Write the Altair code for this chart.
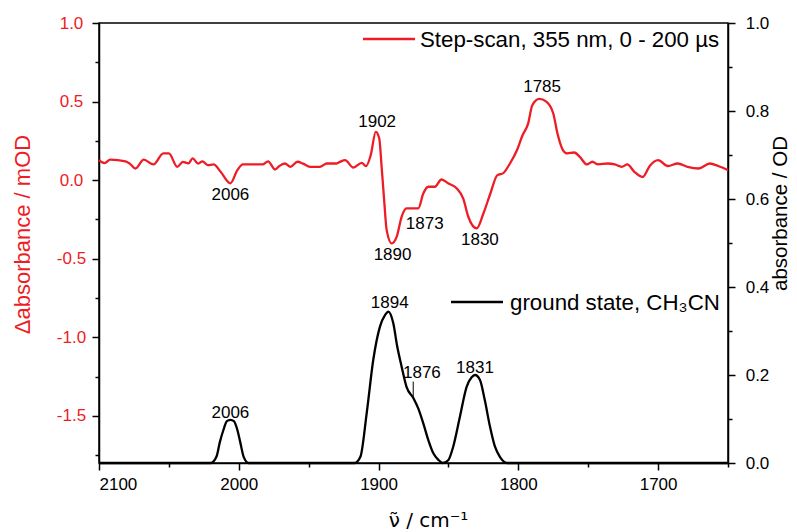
import altair as alt
import pandas as pd

# ---- step-scan difference spectrum (left axis, mOD) ----
red_x = [2100, 2096, 2092, 2081, 2078, 2074, 2068, 2061, 2054, 2050, 2044, 2040, 2036, 2033,
         2029, 2026, 2022, 2018, 2013, 2006, 2001, 1997, 1983, 1979, 1974, 1971, 1967, 1963,
         1958, 1954, 1949, 1942, 1937, 1930, 1927.6, 1924, 1918, 1912, 1909, 1905.6, 1902,
         1899.5, 1897.8, 1896, 1894.2, 1890.6, 1887, 1883.5, 1880, 1875, 1871.6, 1868, 1864.4,
         1859.7, 1855, 1850, 1844, 1839.4, 1835.8, 1829.8, 1825, 1820, 1815, 1811, 1806, 1801,
         1797, 1793, 1790, 1785, 1780, 1775, 1772, 1768, 1765, 1760, 1756, 1751, 1747, 1743,
         1736, 1731, 1726, 1722, 1717, 1711, 1706, 1700, 1693, 1686, 1679, 1671, 1663, 1657, 1650]
red_y = [0.127, 0.108, 0.13, 0.12, 0.105, 0.074, 0.13, 0.10, 0.17, 0.17, 0.085, 0.116, 0.107, 0.138,
         0.105, 0.12, 0.095, 0.10, 0.053, -0.02, 0.064, 0.10, 0.10, 0.12, 0.068, 0.09, 0.106, 0.085,
         0.117, 0.105, 0.085, 0.085, 0.106, 0.106, 0.116, 0.127, 0.08, 0.11, 0.089, 0.159, 0.307,
         0.265, 0.085, -0.127, -0.318, -0.403, -0.36, -0.233, -0.18, -0.18, -0.18, -0.085, -0.042,
         -0.042, 0.004, -0.021, -0.053, -0.117, -0.233, -0.307, -0.212, -0.085, 0.032, 0.043, 0.106, 0.19,
         0.286, 0.36, 0.477, 0.517, 0.50, 0.424, 0.297, 0.19, 0.17, 0.176, 0.148, 0.10, 0.117, 0.10,
         0.106, 0.10, 0.085, 0.10, 0.053, 0.02, 0.09, 0.127, 0.09, 0.106, 0.085, 0.074, 0.106, 0.09, 0.064]

# ---- ground state spectrum (right axis, OD) ----
blk_x = [2100, 2020, 2016, 2013.5, 2011, 2008.5, 2006, 2003.5, 2001, 1999, 1996.5, 1993,
         1917, 1913, 1908.5, 1903.8, 1899, 1895.4, 1893, 1889.5, 1886.6, 1883.5, 1880, 1875,
         1871.6, 1868, 1864.4, 1860.8, 1857.2, 1854, 1850, 1846.6, 1841.8, 1837, 1833.4, 1831,
         1827.5, 1824, 1820.3, 1816.7, 1813.2, 1808, 1650]
blk_y = [0.0, 0.0, 0.014, 0.048, 0.075, 0.095, 0.098, 0.095, 0.075, 0.048, 0.014, 0.0,
         0.0, 0.014, 0.113, 0.234, 0.31, 0.336, 0.344, 0.318, 0.264, 0.219, 0.173, 0.147,
         0.124, 0.09, 0.052, 0.022, 0.007, 0.0, 0.007, 0.037, 0.105, 0.173, 0.195, 0.2,
         0.189, 0.143, 0.083, 0.037, 0.014, 0.0, 0.0]

# ---- peak annotations ----
red_lab = ["2006", "1902", "1890", "1873", "1830", "1785"]
red_lab_x = [2006, 1901, 1890, 1867, 1827.5, 1783]
red_lab_y = [-0.095, 0.369, -0.477, -0.28, -0.38, 0.59]

blk_lab = ["2006", "1894", "1876", "1831"]
blk_lab_x = [2006, 1892, 1869, 1831]
blk_lab_y = [0.114, 0.364, 0.205, 0.217]

leader_x = [1875.2]
leader_y = [0.151]
leader_y2 = [0.185]

legend_red = ["Step-scan, 355 nm, 0 - 200 \u00b5s"]
legend_blk = ["ground state, CH\u2083CN"]

x_ticks = [2100, 2050, 2000, 1950, 1900, 1850, 1800, 1750, 1700, 1650]
yl_major = [-1.5, -1.0, -0.5, 0.0, 0.5, 1.0]
yl_minor = [-1.75, -1.25, -0.75, -0.25, 0.25, 0.75]
yr_ticks = [0.0, 0.1, 0.2, 0.3, 0.4, 0.5, 0.6, 0.7, 0.8, 0.9, 1.0]

RED = "#ee1c25"
FONT = "Liberation Sans"

red_df = pd.DataFrame({"x": red_x, "y": red_y})
blk_df = pd.DataFrame({"x": blk_x, "y": blk_y})
red_lab_df = pd.DataFrame({"t": red_lab, "x": red_lab_x, "y": red_lab_y})
blk_lab_df = pd.DataFrame({"t": blk_lab, "x": blk_lab_x, "y": blk_lab_y})
lead_df = pd.DataFrame({"x": leader_x, "y": leader_y, "y2": leader_y2})

xscale = alt.Scale(domain=[1650, 2100], reverse=True, nice=False, zero=False)
ylscale = alt.Scale(domain=[-1.8, 1.0], nice=False, zero=False)
yrscale = alt.Scale(domain=[0, 1.0], nice=False, zero=False)

MAJ_R = "abs(datum.value*5 - round(datum.value*5)) < 0.001"

x_axis = alt.Axis(
    values=x_ticks, title="\u03bd\u0303 / cm\u207b\u00b9", grid=False,
    labelExpr="datum.value % 100 === 0 ? format(datum.value, 'd') : ''",
    tickSize={"condition": {"test": "datum.value % 100 === 0", "value": 7}, "value": 4},
    labelPadding=6, labelFontSize=17, labelColor="black", labelOverlap=False,
    titleFontSize=20, titleColor="black", titleFontWeight="normal", titleFont="DejaVu Sans",
    titleX=329, titleY=57, titleBaseline="middle",
    domainColor="black", tickColor="black", domainWidth=1.5, tickWidth=1.5,
)

yl_axis = alt.Axis(
    values=yl_major, title="\u0394absorbance / mOD", grid=False, orient="left",
    labelExpr="(datum.value < 0 ? '-' : '') + format(abs(datum.value), '.1f')",
    tickSize=7, labelAlign="center", labelPadding=21, labelFontSize=17, labelColor=RED,
    labelOverlap=False,
    titleFontSize=22, titleColor=RED, titleFontWeight="normal", titleAngle=270,
    titleX=-77, titleY=211, titleBaseline="middle", titleAlign="center",
    domainColor="black", tickColor="black", domainWidth=1.5, tickWidth=1.5,
)
yl_minor_axis = alt.Axis(
    values=yl_minor, labels=False, title=None, grid=False, orient="left", domain=False,
    tickSize=4, tickColor="black", tickWidth=1.5,
)
yr_axis = alt.Axis(
    values=yr_ticks, title="absorbance / OD", grid=False, orient="right",
    labelExpr=f"{MAJ_R} ? format(datum.value, '.1f') : ''",
    tickSize={"condition": {"test": MAJ_R, "value": 7}, "value": 4},
    labelAlign="center", labelPadding=22, labelFontSize=17, labelColor="black", labelOverlap=False,
    titleFontSize=20.5, titleColor="black", titleFontWeight="normal", titleAngle=270,
    titleX=52, titleY=190, titleBaseline="middle", titleAlign="center",
    domainColor="black", tickColor="black", domainWidth=1.5, tickWidth=1.5,
)

red_line = alt.Chart(red_df).mark_line(color=RED, strokeWidth=2.3, interpolate="monotone").encode(
    x=alt.X("x:Q", scale=xscale, axis=x_axis),
    y=alt.Y("y:Q", scale=ylscale, axis=yl_axis),
    order=alt.Order("x:Q", sort="descending"),
)
red_text = alt.Chart(red_lab_df).mark_text(fontSize=17, color="black", baseline="middle", align="center").encode(
    x=alt.X("x:Q", scale=xscale), y=alt.Y("y:Q", scale=ylscale), text="t:N"
)
red_leg_rule = alt.Chart(pd.DataFrame({"t": legend_red})).mark_rule(color=RED, strokeWidth=2.3).encode(
    x=alt.value(264), x2=alt.value(316), y=alt.value(16)
)
red_leg_text = alt.Chart(pd.DataFrame({"t": legend_red})).mark_text(
    fontSize=22.3, color="black", align="left", baseline="middle").encode(
    x=alt.value(321), y=alt.value(17), text="t:N"
)
red_layer = alt.layer(red_line, red_text, red_leg_rule, red_leg_text)

blk_line = alt.Chart(blk_df).mark_line(color="black", strokeWidth=2.3, interpolate="monotone").encode(
    x=alt.X("x:Q", scale=xscale),
    y=alt.Y("y:Q", scale=yrscale, axis=yr_axis),
    order=alt.Order("x:Q", sort="descending"),
)
blk_text = alt.Chart(blk_lab_df).mark_text(fontSize=17, color="black", baseline="middle", align="center").encode(
    x=alt.X("x:Q", scale=xscale), y=alt.Y("y:Q", scale=yrscale), text="t:N"
)
lead = alt.Chart(lead_df).mark_rule(color="black", strokeWidth=1).encode(
    x=alt.X("x:Q", scale=xscale), y=alt.Y("y:Q", scale=yrscale), y2="y2:Q"
)
blk_leg_rule = alt.Chart(pd.DataFrame({"t": legend_blk})).mark_rule(color="black", strokeWidth=2.3).encode(
    x=alt.value(352), x2=alt.value(404), y=alt.value(279)
)
blk_leg_text = alt.Chart(pd.DataFrame({"t": legend_blk})).mark_text(
    fontSize=22.3, color="black", align="left", baseline="middle").encode(
    x=alt.value(411), y=alt.value(280), text="t:N"
)
blk_layer = alt.layer(blk_line, blk_text, lead, blk_leg_rule, blk_leg_text)

# invisible copy of the difference spectrum that carries the minor left ticks
minor_layer = alt.Chart(red_df).mark_line(opacity=0).encode(
    x=alt.X("x:Q", scale=xscale),
    y=alt.Y("y:Q", scale=ylscale, axis=yl_minor_axis),
)

chart = alt.layer(red_layer, blk_layer, minor_layer).resolve_scale(y="independent").properties(
    width=629, height=440,
    autosize=alt.AutoSizeParams(type="none"),
    padding={"left": 91, "top": 15, "right": 61, "bottom": 69},
).configure(font=FONT).configure_view(stroke="black", strokeWidth=1.5)

chart.save("out.html", embed_options={"renderer": "svg", "actions": False})
